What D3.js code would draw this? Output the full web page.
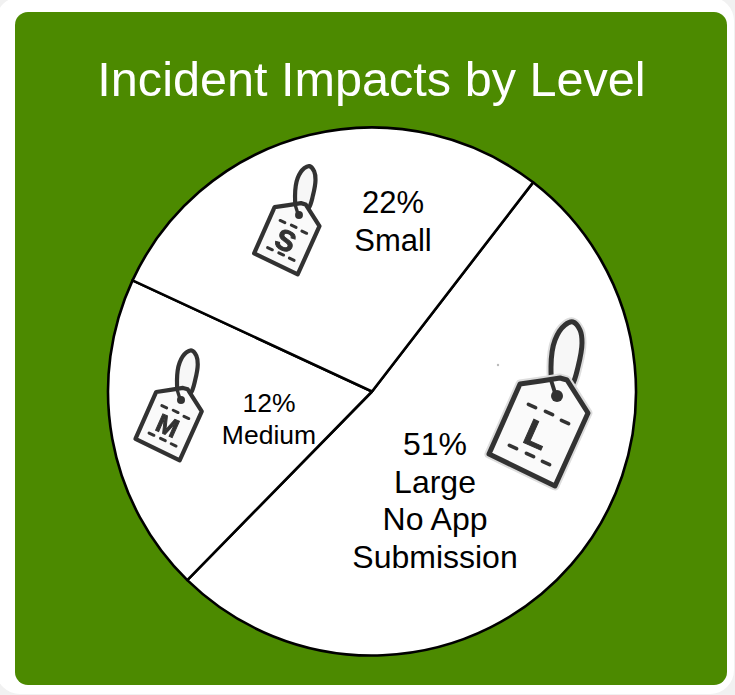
<!DOCTYPE html>
<html><head><meta charset="utf-8">
<style>html,body{margin:0;padding:0;background:#fff;overflow:hidden}svg{display:block}</style>
<script src="https://cdn.jsdelivr.net/npm/d3@7"></script></head>
<body><svg id="c" width="735" height="695"></svg>
<script>
const title = "Incident Impacts by Level";
const categories = ["Large", "Medium", "Small"];
// Slice sizes as drawn in the picture (degrees of the circle); printed labels differ from them.
const sliceDegrees = [186.8, 70.5, 102.7];
const sliceLabels = [
  ["51%", "Large", "No App", "Submission"],
  ["12%", "Medium"],
  ["22%", "Small"]
];
const tagLetters = ["L", "M", "S"];

const svg = d3.select("#c");
const W = 735, H = 695, cx = 372, cy = 391.5, R = 264;
const defs = svg.append("defs");
defs.append("filter").attr("id","soft").append("feGaussianBlur").attr("stdDeviation",0.75);

svg.append("rect").attr("width",W).attr("height",H).attr("fill","#f1f1f1");
svg.append("rect").attr("x",-4).attr("y",-3).attr("width",W+3).attr("height",H+2).attr("rx",24).attr("fill","#fff");
svg.append("rect").attr("x",15).attr("y",12).attr("width",712).attr("height",673).attr("rx",13).attr("fill","#4c8a00");

svg.append("text").text(title).attr("x",371.5).attr("y",95.5)
  .attr("text-anchor","middle").attr("font-family","Liberation Sans, Arial, sans-serif")
  .attr("font-size",48.6).attr("fill","#fff");

const rad = d => d * Math.PI / 180;
const pie = d3.pie().sort(null).startAngle(rad(37.6)).endAngle(rad(397.6));
const arc = d3.arc().innerRadius(0).outerRadius(R);
const slices = pie(sliceDegrees);
const g = svg.append("g").attr("transform",`translate(${cx},${cy})`);
g.selectAll("path").data(slices).join("path").attr("d",arc)
  .attr("fill","#fff").attr("stroke","#000").attr("stroke-width",2.6).attr("stroke-linejoin","round");

const labelStyle = [
  {x:435, y:455, fs:32, lh:37.5},
  {x:269, y:412, fs:26.5, lh:32},
  {x:393, y:213, fs:31, lh:38}
];
labelStyle.forEach((s,i)=>{
  sliceLabels[i].forEach((t,j)=>{
    svg.append("text").text(t).attr("x",s.x).attr("y",s.y+j*s.lh)
      .attr("text-anchor","middle").attr("font-family","Liberation Sans, Arial, sans-serif")
      .attr("font-size",s.fs).attr("fill","#000");
  });
});

// hand-drawn luggage tag icon (outline relative to its eyelet at scale 1)
const tagBody = [[-37,-12],[-16,-15],[3,-18],[10,-16],[31,17],[-2,90],[-68,58]];
const tagLoop = [[-3,-6],[-6,-29],[-2,-56],[8,-71],[16,-74],[23,-66],[25,-53],[21,-29],[15,-11],[5,-3]];
const dashRows = [[-25,10],[-8,17],[8,26],[-44,51],[-27,59],[-11,67]];
const tagIcons = [
  {x:557, y:396, k:1, fs:37, halo:true},
  {x:181, y:400, k:0.67, fs:26, halo:false},
  {x:299, y:215, k:0.66, fs:29, halo:false}
];
const body = d3.line().curve(d3.curveLinearClosed);
const loop = d3.line().curve(d3.curveCatmullRomClosed.alpha(0.5));
const ink = "#333";
tagIcons.forEach((t,i)=>{
  const sc = p => [p[0]*t.k, p[1]*t.k];
  const ic = svg.append("g").attr("transform",`translate(${t.x},${t.y})`).attr("filter","url(#soft)");
  const sw = t.k === 1 ? 5 : 4.2;
  if (t.halo) ic.append("path").attr("d",loop(tagLoop.map(sc))).attr("fill","none").attr("stroke","#ddd").attr("stroke-width",sw+4);
  ic.append("path").attr("d",loop(tagLoop.map(sc))).attr("fill","#f7f7f7").attr("stroke",ink).attr("stroke-width",sw);
  if (t.halo) ic.append("path").attr("d",body(tagBody.map(sc))).attr("fill","none").attr("stroke","#ddd").attr("stroke-width",sw+4).attr("stroke-linejoin","round");
  ic.append("path").attr("d",body(tagBody.map(sc))).attr("fill","#fafafa").attr("stroke",ink).attr("stroke-width",sw).attr("stroke-linejoin","round");
  ic.append("circle").attr("r",6*t.k).attr("fill",ink);
  ic.append("line").attr("x1",-6*t.k).attr("y1",-16*t.k).attr("x2",-1*t.k).attr("y2",0).attr("stroke",ink).attr("stroke-width",sw*0.8);
  dashRows.forEach(d=>{
    const [x,y]=sc(d), dx=3.6*t.k, dy=1.7*t.k;
    ic.append("line").attr("x1",x-dx).attr("y1",y-dy).attr("x2",x+dx).attr("y2",y+dy)
      .attr("stroke",ink).attr("stroke-width",t.k===1?3.6:3).attr("stroke-linecap","round");
  });
  const c = sc([-20,38]);
  ic.append("text").text(tagLetters[i]).attr("transform",`translate(${c[0]},${c[1]}) rotate(24)`)
    .attr("text-anchor","middle").attr("dy","0.36em")
    .attr("font-family","Liberation Sans, Arial, sans-serif").attr("font-weight","bold")
    .attr("font-size",t.fs).attr("fill",ink).attr("stroke",ink).attr("stroke-width",1);
});
svg.append("circle").attr("cx",498).attr("cy",365).attr("r",1.2).attr("fill","#bbb");
</script></body></html>
